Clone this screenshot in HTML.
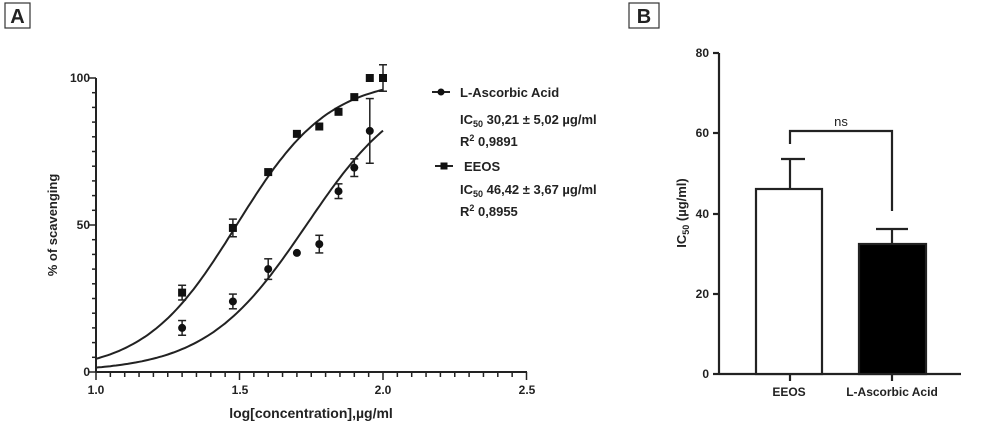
<!DOCTYPE html>
<html><head><meta charset="utf-8"><style>
body{margin:0;background:#fff;width:1003px;height:434px;overflow:hidden}
text{font-family:"Liberation Sans",Arial,sans-serif;font-weight:bold;fill:#222}
</style></head><body>
<svg id="s" width="1003" height="434" viewBox="0 0 1003 434" xmlns="http://www.w3.org/2000/svg">
<rect x="5" y="3" width="25" height="25" fill="none" stroke="#333" stroke-width="1.2"/>
<text x="17.5" y="23" font-size="20" text-anchor="middle">A</text>
<rect x="629" y="3" width="30" height="25" fill="none" stroke="#333" stroke-width="1.2"/>
<text x="644" y="23" font-size="20" text-anchor="middle">B</text>
<g id="a" stroke="#222" stroke-width="2" fill="none"></g>
<g font-size="12">
<text x="90" y="82" text-anchor="end">100</text>
<text x="90" y="229" text-anchor="end">50</text>
<text x="90" y="376" text-anchor="end">0</text>
<text x="96" y="394" text-anchor="middle">1.0</text>
<text x="240" y="394" text-anchor="middle">1.5</text>
<text x="383" y="394" text-anchor="middle">2.0</text>
<text x="527" y="394" text-anchor="middle">2.5</text>
</g>
<text x="311" y="418" font-size="14" text-anchor="middle">log[concentration],µg/ml</text>
<text transform="translate(57,225) rotate(-90)" font-size="13" text-anchor="middle">% of scavenging</text>
<g font-size="13">
<line x1="432" y1="92" x2="450" y2="92" stroke="#222" stroke-width="2"/><circle cx="441" cy="92" r="3.5" fill="#111"/>
<text x="460" y="97">L-Ascorbic Acid</text>
<text x="460" y="124">IC<tspan font-size="9" dy="3">50</tspan><tspan dy="-3"> 30,21 ± 5,02 µg/ml</tspan></text>
<text x="460" y="146">R<tspan font-size="9" dy="-5">2</tspan><tspan dy="5"> 0,9891</tspan></text>
<line x1="435" y1="166" x2="453" y2="166" stroke="#222" stroke-width="2"/><rect x="440.5" y="162.5" width="7" height="7" fill="#111"/>
<text x="464" y="171">EEOS</text>
<text x="460" y="194">IC<tspan font-size="9" dy="3">50</tspan><tspan dy="-3"> 46,42 ± 3,67 µg/ml</tspan></text>
<text x="460" y="216">R<tspan font-size="9" dy="-5">2</tspan><tspan dy="5"> 0,8955</tspan></text>
</g>
<!-- Panel B -->
<g stroke="#222" stroke-width="2.2" fill="none">
<line x1="719" y1="53" x2="719" y2="374"/>
<line x1="719" y1="374" x2="961" y2="374"/>
<line x1="713" y1="53" x2="719" y2="53"/><line x1="713" y1="133" x2="719" y2="133"/><line x1="713" y1="214" x2="719" y2="214"/><line x1="713" y1="294" x2="719" y2="294"/><line x1="713" y1="374" x2="719" y2="374"/>
<line x1="790" y1="374" x2="790" y2="381"/><line x1="892" y1="374" x2="892" y2="381"/>
<line x1="790" y1="189" x2="790" y2="159"/><line x1="781" y1="159" x2="805" y2="159"/>
<line x1="892" y1="244" x2="892" y2="229"/><line x1="876" y1="229" x2="908" y2="229"/>
<polyline points="790,144 790,131 892,131 892,211"/>
<rect x="756" y="189" width="66" height="185" fill="#fff"/>
<rect x="859" y="244" width="67" height="130" fill="#000"/>
</g>
<g font-size="12">
<text x="709" y="57" text-anchor="end">80</text>
<text x="709" y="137" text-anchor="end">60</text>
<text x="709" y="218" text-anchor="end">40</text>
<text x="709" y="298" text-anchor="end">20</text>
<text x="709" y="378" text-anchor="end">0</text>
<text x="789" y="396" text-anchor="middle">EEOS</text>
<text x="892" y="396" text-anchor="middle">L-Ascorbic Acid</text>
</g>
<text x="841" y="126" font-size="13" text-anchor="middle" style="font-weight:normal">ns</text>
<text transform="translate(686,213) rotate(-90)" font-size="13" text-anchor="middle">IC<tspan font-size="9" dy="3">50</tspan><tspan dy="-3"> (µg/ml)</tspan></text>
</svg>
<script>
var g=document.getElementById('a'),h='';
function X(v){return 96+(v-1)*287;}function Y(v){return 372-v*2.94;}
h+='<line x1="96" y1="78" x2="96" y2="372"/><line x1="96" y1="372" x2="527" y2="372"/>';
for(var i=0;i<=20;i++){var y=Y(i*5),L=(i%10==0)?7:4;h+='<line x1="'+(96-L)+'" y1="'+y+'" x2="96" y2="'+y+'" stroke-width="1.5"/>';}
for(var i=0;i<=30;i++){var x=X(1+i*0.05),L=(i%10==0)?8:5;h+='<line x1="'+x+'" y1="372" x2="'+x+'" y2="'+(372+L)+'" stroke-width="1.5"/>';}
function curve(ic,hh){var p='';for(var v=1;v<=2.0001;v+=0.01){var yy=100/(1+Math.pow(10,(ic-v)*hh));p+=(p?'L':'M')+X(v).toFixed(1)+','+Y(yy).toFixed(1);}return '<path d="'+p+'"/>';}
h+=curve(1.49,2.71)+curve(1.733,2.48);
var sq=[[1.3,27,2.5],[1.477,49,3],[1.6,68,0],[1.7,81,0],[1.778,83.5,0],[1.845,88.5,0],[1.9,93.5,0],[1.954,100,0],[2.0,100,4.5]];
var ci=[[1.3,15,2.5],[1.477,24,2.5],[1.6,35,3.5],[1.7,40.5,0],[1.778,43.5,3],[1.845,61.5,2.5],[1.9,69.5,3],[1.954,82,11]];
function eb(d){if(!d[2])return '';var x=X(d[0]),a=Y(d[1]+d[2]),b=Y(d[1]-d[2]);return '<line x1="'+x+'" y1="'+a+'" x2="'+x+'" y2="'+b+'" stroke-width="1.5"/><line x1="'+(x-4)+'" y1="'+a+'" x2="'+(x+4)+'" y2="'+a+'" stroke-width="1.5"/><line x1="'+(x-4)+'" y1="'+b+'" x2="'+(x+4)+'" y2="'+b+'" stroke-width="1.5"/>';}
sq.forEach(function(d){h+=eb(d)+'<rect x="'+(X(d[0])-4)+'" y="'+(Y(d[1])-4)+'" width="8" height="8" fill="#111" stroke="none"/>';});
ci.forEach(function(d){h+=eb(d)+'<circle cx="'+X(d[0])+'" cy="'+Y(d[1])+'" r="4" fill="#111" stroke="none"/>';});
g.innerHTML=h;
</script>
</body></html>
